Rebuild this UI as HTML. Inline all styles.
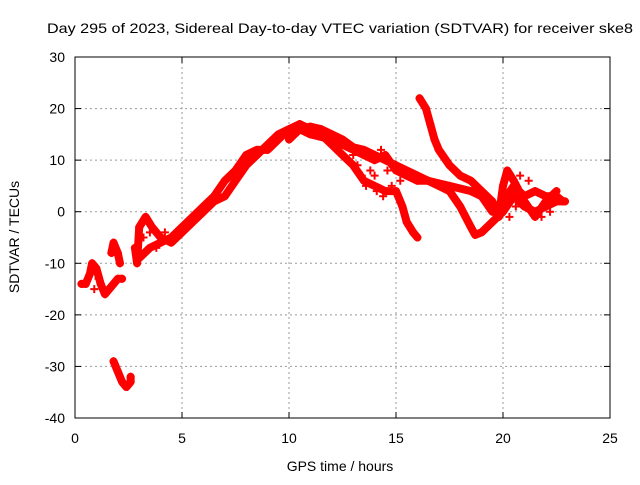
<!DOCTYPE html>
<html><head><meta charset="utf-8"><style>
body{margin:0;background:#fff}
svg text{font-family:"Liberation Sans",sans-serif;font-size:14px;fill:#000}
</style></head><body>
<svg id="chart" width="640" height="480" xmlns="http://www.w3.org/2000/svg">
<text x="340" y="33" text-anchor="middle" textLength="586" lengthAdjust="spacingAndGlyphs">Day 295 of 2023, Sidereal Day-to-day VTEC variation (SDTVAR) for receiver ske8</text>
<text x="340" y="471" text-anchor="middle">GPS time / hours</text>
<text transform="translate(19,237) rotate(-90)" text-anchor="middle">SDTVAR / TECUs</text>
<g id="grid"></g><g id="marks"></g><g id="axes"></g>
</svg>
<script>
const xTicks=[0,5,10,15,20,25];
const yTicks=[30,20,10,0,-10,-20,-30,-40];
const trackA=[[0.3,-14],[0.5,-14],[0.7,-12],[0.8,-10],[1.0,-11],[1.2,-14],[1.4,-16],[1.6,-15],[1.8,-14],[2.0,-13],[2.2,-13]];
const trackB=[[1.8,-29],[2.0,-31],[2.2,-33],[2.4,-34],[2.6,-33],[2.6,-32]];
const trackB2=[[1.7,-8],[1.8,-6],[2.0,-8],[2.1,-10]];
const trackC=[[2.8,-7],[2.9,-10],[3.0,-3],[3.3,-1],[3.6,-3],[4.0,-5],[4.5,-6],[5.0,-4],[5.5,-2],[6.0,0],[6.5,2],[7.0,3],[7.5,6],[8.0,9],[8.5,11],[9.0,13],[9.5,15],[10.0,16],[10.5,17],[11.0,16],[11.5,15],[12.0,13],[12.5,11],[13.0,9],[13.5,6],[14.0,5],[14.5,4],[15.0,4],[15.3,1],[15.5,-2],[15.8,-4],[16.0,-5]];
const trackD=[[3.0,-9],[3.5,-7],[4.0,-6],[4.5,-5],[5.0,-3],[5.5,-1],[6.0,1],[6.5,3],[7.0,6],[7.5,8],[8.0,11],[8.5,12],[9.0,12],[9.5,14],[10.0,16],[10.5,16],[11.0,15],[12.0,14],[12.5,13],[13.0,12],[13.5,11],[14.0,10],[14.5,11],[15.0,8],[15.5,7],[16.0,6],[16.5,6],[17.0,5],[17.5,4],[18.0,1],[18.5,-3],[18.7,-4.5],[19.0,-4],[19.5,-2],[20.0,0],[20.5,3],[21.0,1],[21.5,0],[22.0,1],[22.5,2],[22.9,2]];
const trackE=[[10,14],[10.5,16],[11,16.5],[11.5,16],[12,15],[12.5,14],[13,12.5],[13.5,12],[14,11],[14.5,10],[15,9],[15.5,8],[16,7],[16.5,6],[17,5.5],[17.5,5],[18,4.5],[18.5,4],[19,3],[19.5,0],[20,2],[20.5,5],[21,3],[21.5,4],[22,3],[22.5,3],[22.8,2]];
const trackF=[[16.1,22],[16.4,20],[16.6,17],[16.8,14],[17.0,12],[17.5,9],[18.0,7],[18.5,6],[19.0,4],[19.5,2],[19.8,-1],[20.0,5],[20.2,8],[20.5,6],[21.0,2],[21.5,-1],[22.0,2],[22.5,4]];
const scatterPts=[[13.2,9],[13.6,5],[14.0,7],[14.4,3],[14.8,5],[15.2,6],[14.3,12],[13.8,8],[13.4,7],[14.6,8],[14.1,4],[3.2,-5],[3.8,-7],[3.5,-4],[4.2,-4],[20.3,-1],[21.2,6],[21.8,-1],[20.6,1],[21.5,4],[20.8,7],[22.2,0],[1.1,-13],[0.9,-15],[12.8,10],[13.0,11]];
const tracks=[trackA,trackB,trackB2,trackC,trackD,trackE,trackF];
const L=75,R=610,T=57,B=418;
const sx=v=>L+(v-0)/(25-0)*(R-L);
const sy=v=>B-(v+40)/(70)*(B-T);
const NS="http://www.w3.org/2000/svg";
function mk(t,a,p){const e=document.createElementNS(NS,t);for(const k in a)e.setAttribute(k,a[k]);p.appendChild(e);return e;}
const grid=document.getElementById('grid'),axes=document.getElementById('axes'),marks=document.getElementById('marks');
xTicks.forEach(v=>{const x=sx(v);
 if(v>0&&v<25){const g=mk('line',{x1:x,x2:x,y1:T,y2:B,stroke:'#999','stroke-dasharray':'2,3'},grid);}
 const t=mk('text',{x:x,y:B+25,'text-anchor':'middle'},axes);t.textContent=v;
 
 mk('line',{x1:x,x2:x,y1:B,y2:B-6,stroke:'#000'},axes);mk('line',{x1:x,x2:x,y1:T,y2:T+6,stroke:'#000'},axes);});
yTicks.forEach(v=>{const y=sy(v);
 if(v>-40&&v<30){const g=mk('line',{x1:L,x2:R,y1:y,y2:y,stroke:'#999','stroke-dasharray':'2,3'},grid);}
 const t=mk('text',{x:L-10,y:y+5,'text-anchor':'end'},axes);t.textContent=v;
 
 mk('line',{x1:L,x2:L+6,y1:y,y2:y,stroke:'#000'},axes);mk('line',{x1:R,x2:R-6,y1:y,y2:y,stroke:'#000'},axes);});
const fr=mk('rect',{x:L,y:T,width:R-L,height:B-T,fill:'none',stroke:'#000'},axes);

function plus(p){const x=sx(p[0]),y=sy(p[1]);
 const g=mk('path',{d:`M${x-4},${y}H${x+4}M${x},${y-4}V${y+4}`,stroke:'#f00','stroke-width':2,fill:'none'},marks);
 }
tracks.forEach(tr=>{
 const pl=mk('polyline',{points:tr.map(p=>sx(p[0])+','+sy(p[1])).join(' '),stroke:'#f00','stroke-width':8,fill:'none','stroke-linejoin':'round','stroke-linecap':'round'},marks);
 
 tr.forEach(plus);});
scatterPts.forEach(plus);
</script>
</body></html>
